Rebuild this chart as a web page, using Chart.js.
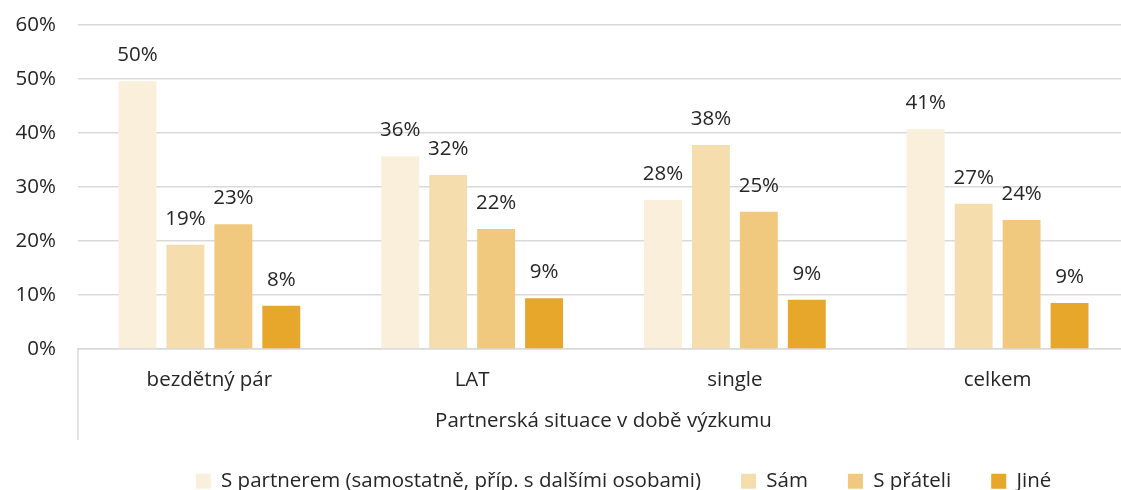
<!DOCTYPE html>
<html>
<head>
<meta charset="utf-8">
<script src="https://cdn.jsdelivr.net/npm/chart.js@4"></script>
<style>
  body { margin: 0; overflow: hidden; background: #fff; }
  #wrap { width: 1132px; height: 490px; }
</style>
</head>
<body>
<div id="wrap"><canvas id="chart"></canvas></div>
<script>
var categories = ['bezdětný pár', 'LAT', 'single', 'celkem'];
var seriesNames = ['S partnerem (samostatně, příp. s dalšími osobami)', 'Sám', 'S přáteli', 'Jiné'];
var partner = [49.6, 35.7, 27.6, 40.7];
var alone = [19.3, 32.2, 37.8, 26.9];
var friends = [23.1, 22.2, 25.4, 23.9];
var other = [8.0, 9.4, 9.1, 8.5];
var yTicks = [0, 10, 20, 30, 40, 50, 60];
var colors = ['#FAEFDB', '#F6DDAE', '#F0C97F', '#E6A72B'];

var fontFamily = "'Open Sans', 'Noto Sans', sans-serif";
var fontSize = 20.5;

// popisky hodnot nad sloupci
var valueLabels = {
  id: 'valueLabels',
  afterDatasetsDraw(chart) {
    var ctx = chart.ctx;
    ctx.save();
    ctx.font = fontSize + 'px ' + fontFamily;
    ctx.fillStyle = '#262626';
    ctx.textAlign = 'center';
    ctx.textBaseline = 'middle';
    chart.data.datasets.forEach((ds, i) => {
      chart.getDatasetMeta(i).data.forEach((bar, j) => {
        ctx.fillText(Math.round(ds.data[j]) + '%', bar.x, bar.y - 26);
      });
    });
    ctx.restore();
  }
};

// svislá čára vlevo pod osou kategorií
var axisLine = {
  id: 'axisLine',
  afterDraw(chart) {
    var ctx = chart.ctx;
    var x = chart.scales.x;
    ctx.save();
    ctx.strokeStyle = '#d9d9d9';
    ctx.lineWidth = 1.5;
    ctx.beginPath();
    ctx.moveTo(x.left, chart.chartArea.bottom);
    ctx.lineTo(x.left, x.bottom);
    ctx.stroke();
    ctx.restore();
  }
};

// legenda: nizsi box, posun radku
var legendTweak = {
  id: 'legendTweak',
  beforeInit(chart) {
    var legend = chart.legend;
    var fit = legend.fit;
    legend.fit = function () {
      fit.call(this);
      this.height = 50;
    };
    var draw = legend._draw;
    legend._draw = function () {
      var ctx = this.ctx;
      ctx.save();
      ctx.translate(55, -9);
      draw.call(this);
      ctx.restore();
    };
  }
};

var data = [partner, alone, friends, other];

new Chart(document.getElementById('chart'), {
  type: 'bar',
  data: {
    labels: categories,
    datasets: data.map((d, i) => ({
      label: seriesNames[i],
      data: d,
      backgroundColor: colors[i],
      categoryPercentage: 0.73,
      barPercentage: 0.79
    }))
  },
  options: {
    responsive: true,
    maintainAspectRatio: false,
    animation: false,
    layout: { padding: { top: 0, left: 8, right: 3, bottom: 0 } },
    plugins: {
      tooltip: { enabled: false },
      legend: {
        position: 'bottom',
        labels: {
          boxWidth: 15,
          boxHeight: 15,
          padding: 40,
          color: '#262626',
          font: { size: fontSize, family: fontFamily }
        }
      }
    },
    scales: {
      y: {
        min: 0,
        max: 60,
        afterBuildTicks: (axis) => { axis.ticks = yTicks.map(v => ({ value: v })); },
        afterFit: (axis) => { axis.width = 70; axis.paddingTop = 25; axis.paddingBottom = 12; },
        ticks: {
          callback: v => v + '%',
          color: '#262626',
          padding: 22,
          font: { size: fontSize, family: fontFamily }
        },
        grid: { color: '#d9d9d9', lineWidth: 1.5, drawTicks: false },
        border: { display: false }
      },
      x: {
        afterFit: (axis) => { axis.height = 91; axis.paddingLeft = 0; axis.paddingRight = 0; },
        grid: { display: false, drawTicks: false },
        border: { color: '#d9d9d9', width: 1.5 },
        ticks: {
          color: '#262626',
          padding: 19,
          font: { size: fontSize, family: fontFamily }
        },
        title: {
          display: true,
          text: 'Partnerská situace v době výzkumu',
          color: '#262626',
          padding: { top: 19, bottom: 7 },
          font: { size: fontSize, family: fontFamily }
        }
      }
    }
  },
  plugins: [valueLabels, axisLine, legendTweak]
});
</script>
</body>
</html>
